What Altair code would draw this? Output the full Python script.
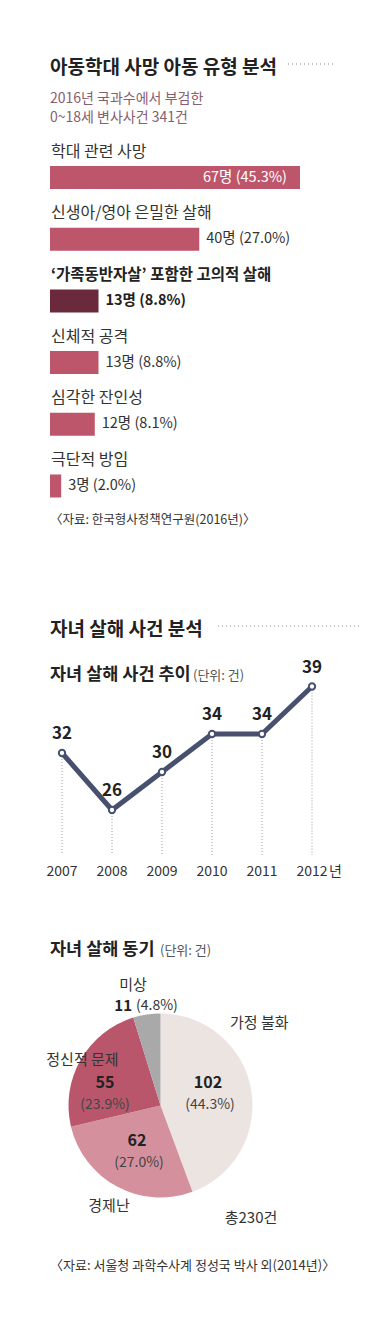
import altair as alt
import pandas as pd

# ---------------- data ----------------
abuse_types = ["학대 관련 사망", "신생아/영아 은밀한 살해", "‘가족동반자살’ 포함한 고의적 살해",
               "신체적 공격", "심각한 잔인성", "극단적 방임"]
abuse_counts = [67, 40, 13, 13, 12, 3]
abuse_pcts = [45.3, 27.0, 8.8, 8.8, 8.1, 2.0]

years = [2007, 2008, 2009, 2010, 2011, 2012]
year_labels = ["2007", "2008", "2009", "2010", "2011", "2012"]
filicide_counts = [32, 26, 30, 34, 34, 39]

motive_names = ["가정 불화", "경제난", "정신적 문제", "미상"]
motive_counts = [102, 62, 55, 11]
motive_pcts = [44.3, 27.0, 23.9, 4.8]

FONT = "'Noto Sans CJK KR', sans-serif"
W = 375
TXT = "#333333"


def txt(s, x, y, size, weight="normal", color=TXT, align="left"):
    return alt.Chart(pd.DataFrame({"t": [s]})).mark_text(
        align=align, baseline="middle", fontSize=size, fontWeight=weight,
        color=color, font=FONT
    ).encode(x=alt.value(x), y=alt.value(y), text="t:N")


def dots(x1, x2, y):
    return alt.Chart(pd.DataFrame({"a": [0]})).mark_rule(
        strokeDash=[1, 3], color="#8a8a8a", strokeWidth=1
    ).encode(x=alt.value(x1), x2=alt.value(x2), y=alt.value(y))


# ---------------- panel 1: bars ----------------
df1 = pd.DataFrame({
    "cat": abuse_types,
    "count": abuse_counts,
    "label": [f"{c}명 ({p:.1f}%)" for c, p in zip(abuse_counts, abuse_pcts)],
    "kind": ["main", "main", "dark", "main", "main", "main"],
    "inside": [True, False, False, False, False, False],
})

xs1 = alt.Scale(domain=[0, 67], range=[42, 292])
ys1 = alt.Scale(domain=abuse_types, range=[158, 489.5], paddingInner=0.627, paddingOuter=0)

base1 = alt.Chart(df1)
bars = base1.mark_bar().encode(
    x=alt.X("count:Q", scale=xs1, axis=None),
    y=alt.Y("cat:N", scale=ys1, axis=None),
    color=alt.Color("kind:N", scale=alt.Scale(domain=["main", "dark"], range=["#be566b", "#6b2a3b"]), legend=None),
)
cat_norm = base1.transform_filter("datum.kind == 'main'").mark_text(
    align="left", baseline="middle", fontSize=16, color=TXT, font=FONT, dy=-26
).encode(x=alt.value(43), y=alt.Y("cat:N", scale=ys1, axis=None), text="cat:N")
cat_bold = base1.transform_filter("datum.kind == 'dark'").mark_text(
    align="left", baseline="middle", fontSize=15.5, fontWeight="bold", color="#222", font=FONT, dy=-26
).encode(x=alt.value(43), y=alt.Y("cat:N", scale=ys1, axis=None), text="cat:N")
val_in = base1.transform_filter("datum.inside").mark_text(
    align="right", baseline="middle", fontSize=14.5, color="white", font=FONT, dx=-13
).encode(x=alt.X("count:Q", scale=xs1, axis=None), y=alt.Y("cat:N", scale=ys1, axis=None), text="label:N")
val_out = base1.transform_filter("!datum.inside && datum.kind == 'main'").mark_text(
    align="left", baseline="middle", fontSize=14.5, color=TXT, font=FONT, dx=7
).encode(x=alt.X("count:Q", scale=xs1, axis=None), y=alt.Y("cat:N", scale=ys1, axis=None), text="label:N")
val_bold = base1.transform_filter("datum.kind == 'dark'").mark_text(
    align="left", baseline="middle", fontSize=14.5, fontWeight="bold", color="#222", font=FONT, dx=7
).encode(x=alt.X("count:Q", scale=xs1, axis=None), y=alt.Y("cat:N", scale=ys1, axis=None), text="label:N")

p1 = alt.layer(
    txt("아동학대 사망 아동 유형 분석", 42, 60, 19, "bold", "#222"),
    dots(280, 327, 56),
    txt("2016년 국과수에서 부검한", 42, 91, 14, color="#86606f"),
    txt("0~18세 변사사건 341건", 42, 110, 14, color="#86606f"),
    bars, cat_norm, cat_bold, val_in, val_out, val_bold,
    txt("〈자료: 한국형사정책연구원(2016년)〉", 42, 512, 12.5),
).properties(width=W, height=552)

# ---------------- panel 2: line ----------------
df2 = pd.DataFrame({"year": years, "ylab": year_labels, "count": filicide_counts})
xs2 = alt.Scale(domain=[2007, 2012], range=[54, 304])
ys2 = alt.Scale(domain=[26, 39], range=[250, 126.5])
base2 = alt.Chart(df2)
X2 = alt.X("year:Q", scale=xs2, axis=None)
Y2 = alt.Y("count:Q", scale=ys2, axis=None)
LINE = "#47506e"

vrules = base2.mark_rule(strokeDash=[1, 2], color="#9a9a9a", strokeWidth=1).encode(
    x=X2, y=Y2, y2=alt.value(295))
line = base2.mark_line(color=LINE, strokeWidth=5).encode(x=X2, y=Y2)
pts = base2.mark_circle(color="white", stroke=LINE, strokeWidth=2, size=40, opacity=1).encode(x=X2, y=Y2)
vlabels = base2.mark_text(fontSize=17, fontWeight="bold", color="#222", font=FONT, dy=-19,
                          baseline="middle").encode(x=X2, y=Y2, text="count:Q")
ylabels = base2.mark_text(fontSize=14, color=TXT, font=FONT, baseline="middle").encode(
    x=X2, y=alt.value(312), text="ylab:N")
nyeon = base2.transform_filter("datum.year == 2012").mark_text(
    fontSize=14, color=TXT, font=FONT, baseline="middle", align="left", dx=17
).encode(x=X2, y=alt.value(312), text=alt.value("년"))

p2 = alt.layer(
    txt("자녀 살해 사건 분석", 42, 70, 19, "bold", "#222"),
    dots(210, 354, 66),
    txt("자녀 살해 사건 추이", 42, 115, 17.5, "bold", "#222"),
    txt("(단위: 건)", 185, 116, 13, color="#555"),
    vrules, line, pts, vlabels, ylabels, nyeon,
).properties(width=W, height=340)

# ---------------- panel 3: pie ----------------
df3 = pd.DataFrame({"name": motive_names, "count": motive_counts, "idx": list(range(len(motive_names)))})
pie = alt.Chart(df3).mark_arc(radius=92).encode(
    theta=alt.Theta("count:Q", stack=True),
    order=alt.Order("idx:Q"),
    color=alt.Color("name:N", scale=alt.Scale(domain=motive_names,
                    range=["#ece4e1", "#d5909e", "#b9566b", "#a9a9a9"]), legend=None),
    x=alt.value(152.5), y=alt.value(205.5),
)


def pct(i):
    return f"({motive_pcts[i]:.1f}%)"


p3 = alt.layer(
    txt("자녀 살해 동기", 42, 50, 17.5, "bold", "#222"),
    txt("(단위: 건)", 152, 51, 13, color="#555"),
    pie,
    txt(motive_names[3], 125, 85, 15, align="center"),
    txt(str(motive_counts[3]), 124, 106, 15, "bold", "#222", align="right"),
    txt(pct(3), 128, 106, 14, align="left"),
    txt(motive_names[0], 222, 123, 15),
    txt(motive_names[2], 74.5, 160, 15, align="center"),
    txt(str(motive_counts[2]), 97, 182.5, 16, "bold", "#222", align="center"),
    txt(pct(2), 97, 204.5, 14, color="#444", align="center"),
    txt(str(motive_counts[0]), 200, 182.5, 16, "bold", "#222", align="center"),
    txt(pct(0), 202, 204.5, 14, color="#444", align="center"),
    txt(str(motive_counts[1]), 129, 241, 16, "bold", "#222", align="center"),
    txt(pct(1), 131, 263, 14, color="#444", align="center"),
    txt(motive_names[1], 101, 306, 15, align="center"),
    txt(f"총{sum(motive_counts)}건", 243, 318, 15, align="center"),
    txt("〈자료: 서울청 과학수사계 정성국 박사 외(2014년)〉", 42, 366, 13),
).properties(width=W, height=415)

chart = alt.vconcat(p1, p2, p3, spacing=0, bounds="flush").properties(
    padding=0
).resolve_scale(color="independent").configure_view(stroke=None)

chart.save("out.html", embed_options={"renderer": "svg", "actions": False})
